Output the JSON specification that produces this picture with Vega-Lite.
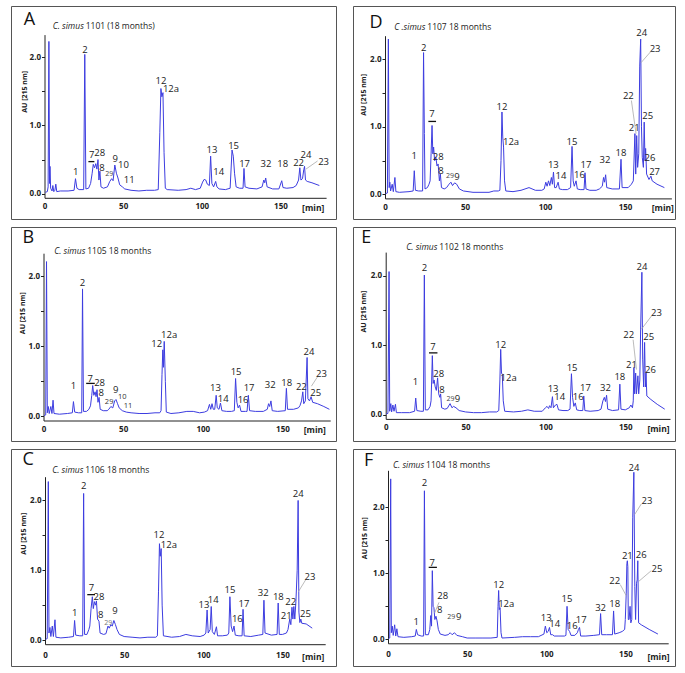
{
"$schema":"https://vega.github.io/schema/vega-lite/v6.json",
"background":"white",
"padding":{"left":10,"top":5,"right":0,"bottom":0},
"config":{
 "view":{"stroke":"#555","strokeWidth":1},
 "axis":{"grid":false,"domainColor":"#222","tickColor":"#222","labelFont":"Open Sans","labelFontWeight":"bold","labelFontSize":8,"labelColor":"#222","titleFont":"Open Sans","titleFontWeight":"bold","titleColor":"#222","labelFlush":false,"labelOverlap":false},
 "axisX":{"ticks":false,"titleFontSize":8.5,"titleBaseline":"middle","titleAlign":"center","titleAngle":0},
 "axisY":{"tickSize":3,"labelPadding":1,"titleFontSize":7,"titleBaseline":"middle","titleAlign":"center","titleAngle":-90}
},
"datasets":{
"info":[
{"p":"A","letter":"A","sp":"C. simus","rest":"1101 (18 months)"},
{"p":"B","letter":"B","sp":"C. simus","rest":"1105 18 months"},
{"p":"C","letter":"C","sp":"C. simus","rest":"1106 18 months"},
{"p":"D","letter":"D","sp":"C .simus","rest":"1107 18 months"},
{"p":"E","letter":"E","sp":"C. simus","rest":"1102 18 months"},
{"p":"F","letter":"F","sp":"C. simus","rest":"1104 18 months"}
],
"br":[
{"p":"A","t":27.9,"t2":31.7,"v":0.47},
{"p":"B","t":26.8,"t2":32.2,"v":0.47},
{"p":"C","t":26.7,"t2":31.6,"v":0.65},
{"p":"D","t":27.1,"t2":31.9,"v":1.08},
{"p":"E","t":27.1,"t2":32.4,"v":0.89},
{"p":"F","t":25.7,"t2":30.9,"v":1.09}
],
"ld":[
{"p":"A","t":173.6,"v":0.48,"t2":166.2,"v2":0.36},
{"p":"B","t":171.9,"v":0.56,"t2":168.2,"v2":0.43},
{"p":"C","t":164.6,"v":0.86,"t2":160,"v2":0.69},
{"p":"D","t":154,"v":1.39,"t2":156.9,"v2":0.9},
{"p":"D","t":166.3,"v":2.12,"t2":160,"v2":1.95},
{"p":"E","t":154.9,"v":1.08,"t2":157,"v2":0.65},
{"p":"E","t":166.4,"v":1.42,"t2":160.1,"v2":1.23},
{"p":"F","t":146.7,"v":0.83,"t2":150.5,"v2":0.66},
{"p":"F","t":160,"v":2.05,"t2":155.8,"v2":1.89},
{"p":"F","t":166.3,"v":1.04,"t2":158.5,"v2":0.88},
{"p":"F","t":32.2,"v":0.56,"t2":29.5,"v2":0.4}
],
"lb":[
{"p":"A","label":"1","t":19.8,"v":0.32},{"p":"A","label":"2","t":25.7,"v":2.11},{"p":"A","label":"7","t":30.0,"v":0.57},{"p":"A","label":"28","t":35.1,"v":0.6},{"p":"A","label":"8","t":36.5,"v":0.38},{"p":"A","label":"29","t":41.2,"v":0.29},{"p":"A","label":"9","t":44.9,"v":0.51},{"p":"A","label":"10","t":50.2,"v":0.42},{"p":"A","label":"11","t":53.8,"v":0.2},{"p":"A","label":"12","t":74.0,"v":1.65},{"p":"A","label":"12a","t":80.4,"v":1.53},{"p":"A","label":"13","t":106.5,"v":0.64},{"p":"A","label":"14","t":110.7,"v":0.32},{"p":"A","label":"15","t":120.2,"v":0.7},{"p":"A","label":"17","t":127.2,"v":0.44},{"p":"A","label":"32","t":140.8,"v":0.44},{"p":"A","label":"18","t":151.4,"v":0.43},{"p":"A","label":"22","t":161.5,"v":0.45},{"p":"A","label":"24","t":166.2,"v":0.57},{"p":"A","label":"23","t":177.4,"v":0.46},
{"p":"D","label":"1","t":18.3,"v":0.57},{"p":"D","label":"2","t":24.2,"v":2.17},{"p":"D","label":"7","t":29.4,"v":1.19},{"p":"D","label":"28","t":33.3,"v":0.56},{"p":"D","label":"8","t":35,"v":0.35},{"p":"D","label":"29","t":40.6,"v":0.27},{"p":"D","label":"9","t":45,"v":0.26},{"p":"D","label":"12","t":73.1,"v":1.29},{"p":"D","label":"12a","t":78.8,"v":0.78},{"p":"D","label":"13","t":105.2,"v":0.43},{"p":"D","label":"14","t":110,"v":0.27},{"p":"D","label":"15","t":116.9,"v":0.78},{"p":"D","label":"16","t":121.5,"v":0.28},{"p":"D","label":"17","t":125.6,"v":0.43},{"p":"D","label":"32","t":137.5,"v":0.51},{"p":"D","label":"18","t":147.5,"v":0.61},{"p":"D","label":"22","t":152.1,"v":1.46},{"p":"D","label":"21","t":155.8,"v":0.98},{"p":"D","label":"24","t":160.4,"v":2.39},{"p":"D","label":"23","t":168.8,"v":2.15},{"p":"D","label":"25","t":164.2,"v":1.16},{"p":"D","label":"26","t":165.6,"v":0.54},{"p":"D","label":"27","t":168.5,"v":0.33},
{"p":"B","label":"1","t":18.8,"v":0.44},{"p":"B","label":"2","t":24.5,"v":1.9},{"p":"B","label":"7","t":29.3,"v":0.53},{"p":"B","label":"28","t":35.2,"v":0.48},{"p":"B","label":"8","t":36.2,"v":0.33},{"p":"B","label":"29","t":41.2,"v":0.2},{"p":"B","label":"9","t":45.4,"v":0.37},{"p":"B","label":"10","t":49.4,"v":0.28},{"p":"B","label":"11","t":53,"v":0.15},{"p":"B","label":"12","t":71.1,"v":1.04},{"p":"B","label":"12a","t":78.9,"v":1.16},{"p":"B","label":"13","t":108,"v":0.4},{"p":"B","label":"14","t":112.8,"v":0.25},{"p":"B","label":"15","t":120.9,"v":0.63},{"p":"B","label":"16","t":125.3,"v":0.23},{"p":"B","label":"17","t":129.1,"v":0.4},{"p":"B","label":"32","t":142.3,"v":0.45},{"p":"B","label":"18","t":152.7,"v":0.47},{"p":"B","label":"22","t":161.9,"v":0.42},{"p":"B","label":"24","t":166.7,"v":0.92},{"p":"B","label":"23","t":174.5,"v":0.61},{"p":"B","label":"25","t":170.9,"v":0.33},
{"p":"E","label":"1","t":18.6,"v":0.47},{"p":"E","label":"2","t":24.2,"v":2.11},{"p":"E","label":"7","t":29.6,"v":0.98},{"p":"E","label":"28","t":33.2,"v":0.59},{"p":"E","label":"8","t":35.3,"v":0.36},{"p":"E","label":"29","t":40.5,"v":0.22},{"p":"E","label":"9","t":44.9,"v":0.22},{"p":"E","label":"12","t":72,"v":1.01},{"p":"E","label":"12a","t":77,"v":0.53},{"p":"E","label":"13","t":104.8,"v":0.37},{"p":"E","label":"14","t":109,"v":0.25},{"p":"E","label":"15","t":116.7,"v":0.67},{"p":"E","label":"16","t":120.5,"v":0.25},{"p":"E","label":"17","t":125.1,"v":0.38},{"p":"E","label":"32","t":137.6,"v":0.38},{"p":"E","label":"18","t":146.6,"v":0.54},{"p":"E","label":"22","t":152.2,"v":1.15},{"p":"E","label":"21","t":153.9,"v":0.72},{"p":"E","label":"24","t":160.5,"v":2.13},{"p":"E","label":"23","t":169.5,"v":1.46},{"p":"E","label":"25","t":164.7,"v":1.12},{"p":"E","label":"26","t":165.8,"v":0.65},
{"p":"C","label":"1","t":18.7,"v":0.38},{"p":"C","label":"2","t":24.4,"v":2.2},{"p":"C","label":"7","t":29.3,"v":0.74},{"p":"C","label":"28","t":34.1,"v":0.61},{"p":"C","label":"8","t":35.2,"v":0.36},{"p":"C","label":"29","t":40,"v":0.24},{"p":"C","label":"9","t":44.2,"v":0.41},{"p":"C","label":"12","t":72,"v":1.5},{"p":"C","label":"12a","t":78.3,"v":1.36},{"p":"C","label":"13","t":100.4,"v":0.5},{"p":"C","label":"14","t":106.3,"v":0.58},{"p":"C","label":"15","t":116.8,"v":0.71},{"p":"C","label":"16","t":121.5,"v":0.3},{"p":"C","label":"17","t":125.7,"v":0.51},{"p":"C","label":"32","t":137.9,"v":0.67},{"p":"C","label":"18","t":147.4,"v":0.62},{"p":"C","label":"22","t":155.2,"v":0.55},{"p":"C","label":"21","t":152.4,"v":0.34},{"p":"C","label":"24","t":160,"v":2.09},{"p":"C","label":"23","t":167.4,"v":0.91},{"p":"C","label":"25","t":164.5,"v":0.37},
{"p":"F","label":"1","t":17.9,"v":0.26},{"p":"F","label":"2","t":23,"v":2.37},{"p":"F","label":"7","t":28,"v":1.16},{"p":"F","label":"28","t":34.6,"v":0.66},{"p":"F","label":"8","t":32.6,"v":0.45},{"p":"F","label":"29","t":40,"v":0.34},{"p":"F","label":"9","t":44.6,"v":0.34},{"p":"F","label":"12","t":69.9,"v":0.83},{"p":"F","label":"12a","t":74.7,"v":0.54},{"p":"F","label":"13","t":100,"v":0.33},{"p":"F","label":"14","t":105.3,"v":0.23},{"p":"F","label":"15","t":113.1,"v":0.61},{"p":"F","label":"16","t":116.4,"v":0.2},{"p":"F","label":"17","t":122.1,"v":0.3},{"p":"F","label":"32","t":134.3,"v":0.48},{"p":"F","label":"18","t":143.2,"v":0.53},{"p":"F","label":"22","t":143.2,"v":0.89},{"p":"F","label":"21","t":151.2,"v":1.26},{"p":"F","label":"24","t":155.4,"v":2.6},{"p":"F","label":"23","t":163.6,"v":2.1},{"p":"F","label":"26","t":160,"v":1.28},{"p":"F","label":"25","t":169.9,"v":1.06}
],
"tr":[
{"p":"A","t":0.5,"v":0.02},{"p":"A","t":1.8,"v":0.03},{"p":"A","t":2.3,"v":0.1},{"p":"A","t":2.8,"v":2.23},{"p":"A","t":3.2,"v":0.15},{"p":"A","t":3.5,"v":0.4},{"p":"A","t":3.9,"v":0.08},{"p":"A","t":4.8,"v":0.04},{"p":"A","t":5.3,"v":0.12},{"p":"A","t":5.9,"v":0.03},{"p":"A","t":6.6,"v":0.05},{"p":"A","t":7.2,"v":0.14},{"p":"A","t":7.8,"v":0.03},{"p":"A","t":10,"v":0.04},{"p":"A","t":15,"v":0.04},{"p":"A","t":18.8,"v":0.05},{"p":"A","t":19.7,"v":0.22},{"p":"A","t":20.6,"v":0.08},{"p":"A","t":22,"v":0.06},{"p":"A","t":24.9,"v":0.06},{"p":"A","t":25.6,"v":2.04},{"p":"A","t":26.3,"v":0.07},{"p":"A","t":28,"v":0.08},{"p":"A","t":29.3,"v":0.15},{"p":"A","t":30.3,"v":0.3},{"p":"A","t":31,"v":0.43},{"p":"A","t":31.8,"v":0.38},{"p":"A","t":32.6,"v":0.44},{"p":"A","t":33.3,"v":0.36},{"p":"A","t":34,"v":0.5},{"p":"A","t":34.6,"v":0.2},{"p":"A","t":35.2,"v":0.33},{"p":"A","t":35.9,"v":0.1},{"p":"A","t":37.5,"v":0.08},{"p":"A","t":40,"v":0.1},{"p":"A","t":41.5,"v":0.18},{"p":"A","t":42.7,"v":0.22},{"p":"A","t":43.6,"v":0.19},{"p":"A","t":44.7,"v":0.42},{"p":"A","t":45.7,"v":0.3},{"p":"A","t":46.7,"v":0.23},{"p":"A","t":47.8,"v":0.13},{"p":"A","t":49.5,"v":0.1},{"p":"A","t":51,"v":0.07},{"p":"A","t":55,"v":0.05},{"p":"A","t":60,"v":0.04},{"p":"A","t":65,"v":0.05},{"p":"A","t":70,"v":0.05},{"p":"A","t":72.3,"v":0.06},{"p":"A","t":73.3,"v":0.9},{"p":"A","t":74,"v":1.54},{"p":"A","t":74.6,"v":1.42},{"p":"A","t":75.3,"v":1.48},{"p":"A","t":76,"v":0.6},{"p":"A","t":76.8,"v":0.08},{"p":"A","t":78,"v":0.06},{"p":"A","t":85,"v":0.05},{"p":"A","t":90,"v":0.06},{"p":"A","t":93,"v":0.08},{"p":"A","t":96,"v":0.06},{"p":"A","t":99,"v":0.08},{"p":"A","t":100.5,"v":0.17},{"p":"A","t":101.5,"v":0.21},{"p":"A","t":102.5,"v":0.2},{"p":"A","t":103.5,"v":0.14},{"p":"A","t":104.8,"v":0.12},{"p":"A","t":105.6,"v":0.55},{"p":"A","t":106.4,"v":0.15},{"p":"A","t":107.5,"v":0.1},{"p":"A","t":108.8,"v":0.18},{"p":"A","t":109.6,"v":0.1},{"p":"A","t":111,"v":0.07},{"p":"A","t":115,"v":0.06},{"p":"A","t":118,"v":0.08},{"p":"A","t":119.2,"v":0.64},{"p":"A","t":120,"v":0.55},{"p":"A","t":120.8,"v":0.3},{"p":"A","t":121.8,"v":0.1},{"p":"A","t":124,"v":0.08},{"p":"A","t":126.2,"v":0.08},{"p":"A","t":126.8,"v":0.37},{"p":"A","t":127.5,"v":0.1},{"p":"A","t":130,"v":0.08},{"p":"A","t":135,"v":0.07},{"p":"A","t":138.3,"v":0.1},{"p":"A","t":139.4,"v":0.2},{"p":"A","t":140,"v":0.16},{"p":"A","t":140.6,"v":0.23},{"p":"A","t":141.5,"v":0.1},{"p":"A","t":145,"v":0.07},{"p":"A","t":149,"v":0.07},{"p":"A","t":150.8,"v":0.19},{"p":"A","t":151.6,"v":0.09},{"p":"A","t":154,"v":0.08},{"p":"A","t":158,"v":0.09},{"p":"A","t":160,"v":0.12},{"p":"A","t":161.5,"v":0.2},{"p":"A","t":162.3,"v":0.38},{"p":"A","t":163,"v":0.2},{"p":"A","t":164,"v":0.22},{"p":"A","t":164.8,"v":0.35},{"p":"A","t":165.3,"v":0.4},{"p":"A","t":165.9,"v":0.2},{"p":"A","t":167,"v":0.18},{"p":"A","t":170,"v":0.16},{"p":"A","t":174.7,"v":0.12},
{"p":"D","t":0.3,"v":0.01},{"p":"D","t":1.5,"v":0.02},{"p":"D","t":2.1,"v":2.3},{"p":"D","t":2.6,"v":0.1},{"p":"D","t":3,"v":0.18},{"p":"D","t":3.5,"v":0.05},{"p":"D","t":4.5,"v":0.15},{"p":"D","t":5.2,"v":0.04},{"p":"D","t":6.2,"v":0.25},{"p":"D","t":6.8,"v":0.04},{"p":"D","t":9,"v":0.03},{"p":"D","t":15,"v":0.04},{"p":"D","t":17.6,"v":0.05},{"p":"D","t":18.3,"v":0.35},{"p":"D","t":19,"v":0.06},{"p":"D","t":21,"v":0.05},{"p":"D","t":23.5,"v":0.05},{"p":"D","t":24.1,"v":2.1},{"p":"D","t":24.6,"v":0.9},{"p":"D","t":25,"v":0.08},{"p":"D","t":26.5,"v":0.1},{"p":"D","t":27.5,"v":0.15},{"p":"D","t":28.2,"v":0.2},{"p":"D","t":28.8,"v":0.6},{"p":"D","t":29.4,"v":1.02},{"p":"D","t":29.9,"v":0.6},{"p":"D","t":30.4,"v":0.7},{"p":"D","t":31,"v":0.5},{"p":"D","t":31.8,"v":0.55},{"p":"D","t":32.5,"v":0.42},{"p":"D","t":33.2,"v":0.45},{"p":"D","t":34,"v":0.2},{"p":"D","t":34.6,"v":0.3},{"p":"D","t":35.3,"v":0.1},{"p":"D","t":37,"v":0.08},{"p":"D","t":38.5,"v":0.1},{"p":"D","t":40,"v":0.15},{"p":"D","t":41.2,"v":0.18},{"p":"D","t":42.2,"v":0.13},{"p":"D","t":43.5,"v":0.17},{"p":"D","t":44.8,"v":0.15},{"p":"D","t":46.5,"v":0.08},{"p":"D","t":49,"v":0.05},{"p":"D","t":55,"v":0.03},{"p":"D","t":60,"v":0.03},{"p":"D","t":65,"v":0.03},{"p":"D","t":68,"v":0.05},{"p":"D","t":70.8,"v":0.05},{"p":"D","t":71.8,"v":0.06},{"p":"D","t":72.5,"v":0.5},{"p":"D","t":73.1,"v":1.22},{"p":"D","t":73.6,"v":0.85},{"p":"D","t":74.1,"v":0.7},{"p":"D","t":74.7,"v":0.2},{"p":"D","t":75.5,"v":0.05},{"p":"D","t":80,"v":0.04},{"p":"D","t":85,"v":0.06},{"p":"D","t":90,"v":0.1},{"p":"D","t":94,"v":0.06},{"p":"D","t":98,"v":0.06},{"p":"D","t":99.5,"v":0.08},{"p":"D","t":100.5,"v":0.18},{"p":"D","t":101.3,"v":0.12},{"p":"D","t":102.2,"v":0.2},{"p":"D","t":103,"v":0.13},{"p":"D","t":104,"v":0.25},{"p":"D","t":104.6,"v":0.15},{"p":"D","t":105.3,"v":0.33},{"p":"D","t":106,"v":0.1},{"p":"D","t":107,"v":0.1},{"p":"D","t":108.2,"v":0.18},{"p":"D","t":109,"v":0.08},{"p":"D","t":111,"v":0.07},{"p":"D","t":114,"v":0.07},{"p":"D","t":116,"v":0.1},{"p":"D","t":116.9,"v":0.71},{"p":"D","t":117.6,"v":0.2},{"p":"D","t":118.3,"v":0.12},{"p":"D","t":119.4,"v":0.2},{"p":"D","t":120.2,"v":0.08},{"p":"D","t":122,"v":0.07},{"p":"D","t":124.4,"v":0.07},{"p":"D","t":125,"v":0.32},{"p":"D","t":125.6,"v":0.08},{"p":"D","t":128,"v":0.06},{"p":"D","t":132,"v":0.06},{"p":"D","t":134,"v":0.08},{"p":"D","t":135.8,"v":0.12},{"p":"D","t":136.6,"v":0.25},{"p":"D","t":137.2,"v":0.18},{"p":"D","t":137.9,"v":0.29},{"p":"D","t":138.6,"v":0.1},{"p":"D","t":142,"v":0.08},{"p":"D","t":146.5,"v":0.08},{"p":"D","t":147.5,"v":0.52},{"p":"D","t":148.2,"v":0.1},{"p":"D","t":152,"v":0.1},{"p":"D","t":154,"v":0.15},{"p":"D","t":155.2,"v":0.2},{"p":"D","t":156.2,"v":0.9},{"p":"D","t":156.7,"v":0.3},{"p":"D","t":157.3,"v":0.87},{"p":"D","t":157.9,"v":0.4},{"p":"D","t":158.6,"v":0.6},{"p":"D","t":159.2,"v":1.9},{"p":"D","t":159.8,"v":2.3},{"p":"D","t":160.3,"v":1.0},{"p":"D","t":160.8,"v":0.55},{"p":"D","t":161.5,"v":0.4},{"p":"D","t":162,"v":1.07},{"p":"D","t":162.5,"v":0.5},{"p":"D","t":162.9,"v":0.68},{"p":"D","t":163.5,"v":0.3},{"p":"D","t":165,"v":0.22},{"p":"D","t":166.2,"v":0.27},{"p":"D","t":167,"v":0.2},{"p":"D","t":170,"v":0.15},{"p":"D","t":174.6,"v":0.1},
{"p":"B","t":0.3,"v":0.01},{"p":"B","t":1.4,"v":0.02},{"p":"B","t":1.9,"v":2.21},{"p":"B","t":2.4,"v":0.05},{"p":"B","t":3,"v":0.14},{"p":"B","t":3.6,"v":0.04},{"p":"B","t":4.6,"v":0.14},{"p":"B","t":5.3,"v":0.04},{"p":"B","t":6,"v":0.23},{"p":"B","t":6.6,"v":0.04},{"p":"B","t":10,"v":0.03},{"p":"B","t":15,"v":0.04},{"p":"B","t":18.1,"v":0.05},{"p":"B","t":18.8,"v":0.21},{"p":"B","t":19.6,"v":0.06},{"p":"B","t":22,"v":0.05},{"p":"B","t":24,"v":0.05},{"p":"B","t":24.5,"v":1.82},{"p":"B","t":25.1,"v":0.07},{"p":"B","t":27,"v":0.07},{"p":"B","t":28.5,"v":0.1},{"p":"B","t":29.5,"v":0.15},{"p":"B","t":30.3,"v":0.3},{"p":"B","t":30.9,"v":0.44},{"p":"B","t":31.6,"v":0.3},{"p":"B","t":32.4,"v":0.35},{"p":"B","t":33,"v":0.28},{"p":"B","t":33.6,"v":0.38},{"p":"B","t":34.2,"v":0.2},{"p":"B","t":34.9,"v":0.27},{"p":"B","t":35.6,"v":0.1},{"p":"B","t":37.5,"v":0.08},{"p":"B","t":40,"v":0.08},{"p":"B","t":41,"v":0.1},{"p":"B","t":42.3,"v":0.14},{"p":"B","t":43.5,"v":0.12},{"p":"B","t":44.7,"v":0.22},{"p":"B","t":45.5,"v":0.24},{"p":"B","t":46.5,"v":0.18},{"p":"B","t":47.5,"v":0.12},{"p":"B","t":49.5,"v":0.08},{"p":"B","t":52,"v":0.06},{"p":"B","t":55,"v":0.05},{"p":"B","t":60,"v":0.04},{"p":"B","t":65,"v":0.04},{"p":"B","t":70,"v":0.05},{"p":"B","t":73,"v":0.05},{"p":"B","t":73.8,"v":0.08},{"p":"B","t":74.4,"v":0.6},{"p":"B","t":74.9,"v":0.95},{"p":"B","t":75.3,"v":0.7},{"p":"B","t":75.8,"v":1.07},{"p":"B","t":76.5,"v":0.5},{"p":"B","t":77.1,"v":0.06},{"p":"B","t":80,"v":0.04},{"p":"B","t":85,"v":0.05},{"p":"B","t":90,"v":0.07},{"p":"B","t":94,"v":0.07},{"p":"B","t":98,"v":0.05},{"p":"B","t":101,"v":0.06},{"p":"B","t":103,"v":0.08},{"p":"B","t":104.2,"v":0.17},{"p":"B","t":105,"v":0.1},{"p":"B","t":105.8,"v":0.18},{"p":"B","t":106.6,"v":0.1},{"p":"B","t":107.5,"v":0.1},{"p":"B","t":108.4,"v":0.3},{"p":"B","t":109.1,"v":0.12},{"p":"B","t":110.2,"v":0.1},{"p":"B","t":111.1,"v":0.19},{"p":"B","t":112,"v":0.08},{"p":"B","t":115,"v":0.07},{"p":"B","t":118,"v":0.07},{"p":"B","t":119.8,"v":0.08},{"p":"B","t":120.6,"v":0.54},{"p":"B","t":121.4,"v":0.2},{"p":"B","t":122.2,"v":0.12},{"p":"B","t":123.1,"v":0.16},{"p":"B","t":124,"v":0.07},{"p":"B","t":126.8,"v":0.07},{"p":"B","t":127.8,"v":0.07},{"p":"B","t":128.6,"v":0.3},{"p":"B","t":129.4,"v":0.08},{"p":"B","t":133,"v":0.07},{"p":"B","t":138,"v":0.07},{"p":"B","t":140.5,"v":0.1},{"p":"B","t":141.3,"v":0.18},{"p":"B","t":142,"v":0.14},{"p":"B","t":142.8,"v":0.22},{"p":"B","t":143.6,"v":0.08},{"p":"B","t":147,"v":0.07},{"p":"B","t":151.8,"v":0.08},{"p":"B","t":152.5,"v":0.4},{"p":"B","t":153.2,"v":0.1},{"p":"B","t":157,"v":0.1},{"p":"B","t":160,"v":0.12},{"p":"B","t":161,"v":0.15},{"p":"B","t":162,"v":0.22},{"p":"B","t":162.8,"v":0.35},{"p":"B","t":163.4,"v":0.18},{"p":"B","t":164.4,"v":0.22},{"p":"B","t":165.5,"v":0.84},{"p":"B","t":166,"v":0.25},{"p":"B","t":167,"v":0.22},{"p":"B","t":168,"v":0.28},{"p":"B","t":169,"v":0.2},{"p":"B","t":172,"v":0.18},{"p":"B","t":176,"v":0.14},{"p":"B","t":179.5,"v":0.1},
{"p":"E","t":0.3,"v":0.01},{"p":"E","t":1.4,"v":0.02},{"p":"E","t":2.1,"v":2.06},{"p":"E","t":2.5,"v":0.05},{"p":"E","t":3.2,"v":0.16},{"p":"E","t":3.7,"v":0.04},{"p":"E","t":4.5,"v":0.14},{"p":"E","t":5.2,"v":0.05},{"p":"E","t":6.1,"v":0.15},{"p":"E","t":6.7,"v":0.03},{"p":"E","t":10,"v":0.03},{"p":"E","t":15,"v":0.03},{"p":"E","t":18.1,"v":0.05},{"p":"E","t":18.8,"v":0.24},{"p":"E","t":19.5,"v":0.06},{"p":"E","t":22,"v":0.05},{"p":"E","t":23.6,"v":0.05},{"p":"E","t":24.2,"v":2.01},{"p":"E","t":24.8,"v":0.07},{"p":"E","t":26.5,"v":0.07},{"p":"E","t":27.8,"v":0.12},{"p":"E","t":28.4,"v":0.2},{"p":"E","t":28.8,"v":0.5},{"p":"E","t":29.2,"v":0.85},{"p":"E","t":29.7,"v":0.45},{"p":"E","t":30.3,"v":0.5},{"p":"E","t":31,"v":0.4},{"p":"E","t":31.7,"v":0.35},{"p":"E","t":32.5,"v":0.53},{"p":"E","t":33.2,"v":0.3},{"p":"E","t":33.9,"v":0.25},{"p":"E","t":34.4,"v":0.3},{"p":"E","t":35,"v":0.1},{"p":"E","t":37,"v":0.08},{"p":"E","t":38.5,"v":0.09},{"p":"E","t":40.3,"v":0.16},{"p":"E","t":41.5,"v":0.1},{"p":"E","t":42.5,"v":0.12},{"p":"E","t":44,"v":0.1},{"p":"E","t":46,"v":0.06},{"p":"E","t":50,"v":0.04},{"p":"E","t":55,"v":0.03},{"p":"E","t":60,"v":0.03},{"p":"E","t":65,"v":0.04},{"p":"E","t":69.5,"v":0.04},{"p":"E","t":70.8,"v":0.06},{"p":"E","t":71.5,"v":0.5},{"p":"E","t":72,"v":0.94},{"p":"E","t":72.5,"v":0.6},{"p":"E","t":73,"v":0.58},{"p":"E","t":73.6,"v":0.2},{"p":"E","t":74.5,"v":0.05},{"p":"E","t":80,"v":0.04},{"p":"E","t":85,"v":0.05},{"p":"E","t":89,"v":0.07},{"p":"E","t":93,"v":0.05},{"p":"E","t":98,"v":0.05},{"p":"E","t":100,"v":0.1},{"p":"E","t":101,"v":0.12},{"p":"E","t":102,"v":0.09},{"p":"E","t":102.6,"v":0.13},{"p":"E","t":103.5,"v":0.1},{"p":"E","t":104.4,"v":0.26},{"p":"E","t":105,"v":0.1},{"p":"E","t":106.3,"v":0.14},{"p":"E","t":107.2,"v":0.15},{"p":"E","t":108.2,"v":0.07},{"p":"E","t":111,"v":0.06},{"p":"E","t":114,"v":0.06},{"p":"E","t":115.4,"v":0.08},{"p":"E","t":116.3,"v":0.59},{"p":"E","t":117,"v":0.25},{"p":"E","t":117.8,"v":0.12},{"p":"E","t":118.7,"v":0.17},{"p":"E","t":119.6,"v":0.07},{"p":"E","t":121.5,"v":0.06},{"p":"E","t":123.4,"v":0.06},{"p":"E","t":124,"v":0.27},{"p":"E","t":124.7,"v":0.06},{"p":"E","t":128,"v":0.05},{"p":"E","t":133,"v":0.06},{"p":"E","t":134.8,"v":0.08},{"p":"E","t":136,"v":0.2},{"p":"E","t":136.9,"v":0.25},{"p":"E","t":137.6,"v":0.19},{"p":"E","t":138.3,"v":0.28},{"p":"E","t":139,"v":0.08},{"p":"E","t":142,"v":0.06},{"p":"E","t":145.8,"v":0.07},{"p":"E","t":146.6,"v":0.44},{"p":"E","t":147.3,"v":0.08},{"p":"E","t":150,"v":0.07},{"p":"E","t":152.5,"v":0.1},{"p":"E","t":153.5,"v":0.14},{"p":"E","t":154.5,"v":0.1},{"p":"E","t":155,"v":0.2},{"p":"E","t":155.4,"v":0.68},{"p":"E","t":155.9,"v":0.3},{"p":"E","t":156.5,"v":0.6},{"p":"E","t":157,"v":0.3},{"p":"E","t":157.9,"v":0.56},{"p":"E","t":158.4,"v":0.3},{"p":"E","t":159.1,"v":0.5},{"p":"E","t":159.6,"v":1.22},{"p":"E","t":160.4,"v":2.05},{"p":"E","t":160.9,"v":0.8},{"p":"E","t":161.5,"v":0.4},{"p":"E","t":162.1,"v":1.04},{"p":"E","t":162.6,"v":0.4},{"p":"E","t":163,"v":0.6},{"p":"E","t":163.5,"v":0.27},{"p":"E","t":166,"v":0.22},{"p":"E","t":170,"v":0.15},{"p":"E","t":174.7,"v":0.08},
{"p":"C","t":0.3,"v":0.01},{"p":"C","t":1.4,"v":0.02},{"p":"C","t":2.1,"v":2.27},{"p":"C","t":2.5,"v":0.1},{"p":"C","t":3.1,"v":0.18},{"p":"C","t":3.7,"v":0.05},{"p":"C","t":4.6,"v":0.2},{"p":"C","t":5.3,"v":0.05},{"p":"C","t":6.3,"v":0.29},{"p":"C","t":6.9,"v":0.04},{"p":"C","t":10,"v":0.03},{"p":"C","t":15,"v":0.04},{"p":"C","t":18,"v":0.05},{"p":"C","t":18.7,"v":0.28},{"p":"C","t":19.4,"v":0.07},{"p":"C","t":22,"v":0.06},{"p":"C","t":23.8,"v":0.06},{"p":"C","t":24.4,"v":2.1},{"p":"C","t":25,"v":0.08},{"p":"C","t":26.5,"v":0.08},{"p":"C","t":27.7,"v":0.15},{"p":"C","t":28.3,"v":0.2},{"p":"C","t":29.1,"v":0.45},{"p":"C","t":29.9,"v":0.62},{"p":"C","t":30.5,"v":0.45},{"p":"C","t":31.2,"v":0.55},{"p":"C","t":31.9,"v":0.5},{"p":"C","t":32.5,"v":0.56},{"p":"C","t":33.2,"v":0.3},{"p":"C","t":34.1,"v":0.27},{"p":"C","t":34.8,"v":0.1},{"p":"C","t":37,"v":0.08},{"p":"C","t":38.5,"v":0.09},{"p":"C","t":39.8,"v":0.2},{"p":"C","t":40.6,"v":0.17},{"p":"C","t":41.6,"v":0.22},{"p":"C","t":42.5,"v":0.2},{"p":"C","t":43.5,"v":0.28},{"p":"C","t":44.5,"v":0.22},{"p":"C","t":45.5,"v":0.15},{"p":"C","t":47,"v":0.08},{"p":"C","t":50,"v":0.05},{"p":"C","t":55,"v":0.04},{"p":"C","t":60,"v":0.03},{"p":"C","t":65,"v":0.04},{"p":"C","t":70,"v":0.04},{"p":"C","t":71,"v":0.06},{"p":"C","t":71.7,"v":0.7},{"p":"C","t":72.3,"v":1.38},{"p":"C","t":72.8,"v":1.2},{"p":"C","t":73.4,"v":1.31},{"p":"C","t":74,"v":0.5},{"p":"C","t":74.8,"v":0.06},{"p":"C","t":80,"v":0.04},{"p":"C","t":85,"v":0.05},{"p":"C","t":89,"v":0.08},{"p":"C","t":93,"v":0.06},{"p":"C","t":98,"v":0.05},{"p":"C","t":100.5,"v":0.07},{"p":"C","t":101.6,"v":0.1},{"p":"C","t":102.4,"v":0.43},{"p":"C","t":103.1,"v":0.1},{"p":"C","t":104.3,"v":0.15},{"p":"C","t":105,"v":0.48},{"p":"C","t":105.7,"v":0.12},{"p":"C","t":107,"v":0.08},{"p":"C","t":108.3,"v":0.19},{"p":"C","t":109,"v":0.06},{"p":"C","t":112,"v":0.06},{"p":"C","t":115.2,"v":0.07},{"p":"C","t":116.1,"v":0.1},{"p":"C","t":116.8,"v":0.62},{"p":"C","t":117.6,"v":0.2},{"p":"C","t":118.5,"v":0.12},{"p":"C","t":119.4,"v":0.2},{"p":"C","t":120.2,"v":0.07},{"p":"C","t":122.5,"v":0.06},{"p":"C","t":124.5,"v":0.06},{"p":"C","t":125.1,"v":0.44},{"p":"C","t":125.8,"v":0.06},{"p":"C","t":130,"v":0.05},{"p":"C","t":135,"v":0.07},{"p":"C","t":137.6,"v":0.08},{"p":"C","t":138.3,"v":0.57},{"p":"C","t":139,"v":0.1},{"p":"C","t":143,"v":0.07},{"p":"C","t":146.6,"v":0.08},{"p":"C","t":147.3,"v":0.53},{"p":"C","t":148,"v":0.08},{"p":"C","t":150,"v":0.08},{"p":"C","t":152.5,"v":0.1},{"p":"C","t":153.5,"v":0.15},{"p":"C","t":154.6,"v":0.3},{"p":"C","t":155.3,"v":0.22},{"p":"C","t":156,"v":0.47},{"p":"C","t":156.6,"v":0.3},{"p":"C","t":157.2,"v":0.48},{"p":"C","t":157.8,"v":0.3},{"p":"C","t":158.5,"v":0.55},{"p":"C","t":159.3,"v":1.0},{"p":"C","t":159.9,"v":2.0},{"p":"C","t":160.4,"v":0.4},{"p":"C","t":161,"v":0.25},{"p":"C","t":161.6,"v":0.3},{"p":"C","t":162.2,"v":0.24},{"p":"C","t":165,"v":0.23},{"p":"C","t":168.8,"v":0.17},
{"p":"F","t":0.3,"v":0.01},{"p":"F","t":1.1,"v":0.02},{"p":"F","t":1.7,"v":2.43},{"p":"F","t":2.1,"v":0.1},{"p":"F","t":2.7,"v":0.2},{"p":"F","t":3.3,"v":0.06},{"p":"F","t":4.2,"v":0.22},{"p":"F","t":4.9,"v":0.05},{"p":"F","t":5.6,"v":0.16},{"p":"F","t":6.3,"v":0.04},{"p":"F","t":10,"v":0.03},{"p":"F","t":15,"v":0.04},{"p":"F","t":17.2,"v":0.05},{"p":"F","t":17.9,"v":0.15},{"p":"F","t":18.7,"v":0.07},{"p":"F","t":21,"v":0.05},{"p":"F","t":22.5,"v":0.05},{"p":"F","t":23,"v":2.25},{"p":"F","t":23.6,"v":0.07},{"p":"F","t":25.5,"v":0.07},{"p":"F","t":26.4,"v":0.15},{"p":"F","t":27,"v":0.36},{"p":"F","t":27.5,"v":0.2},{"p":"F","t":28,"v":1.04},{"p":"F","t":28.5,"v":0.5},{"p":"F","t":29,"v":0.48},{"p":"F","t":29.6,"v":0.3},{"p":"F","t":30.3,"v":0.35},{"p":"F","t":31,"v":0.28},{"p":"F","t":31.8,"v":0.15},{"p":"F","t":33,"v":0.08},{"p":"F","t":36,"v":0.06},{"p":"F","t":38,"v":0.07},{"p":"F","t":39.3,"v":0.1},{"p":"F","t":40.5,"v":0.07},{"p":"F","t":42,"v":0.1},{"p":"F","t":43.5,"v":0.06},{"p":"F","t":47,"v":0.04},{"p":"F","t":50,"v":0.02},{"p":"F","t":55,"v":0.02},{"p":"F","t":60,"v":0.02},{"p":"F","t":65,"v":0.02},{"p":"F","t":69,"v":0.03},{"p":"F","t":69.5,"v":0.5},{"p":"F","t":69.9,"v":0.74},{"p":"F","t":70.3,"v":0.45},{"p":"F","t":70.8,"v":0.48},{"p":"F","t":71.4,"v":0.1},{"p":"F","t":72,"v":0.02},{"p":"F","t":80,"v":0.03},{"p":"F","t":85,"v":0.04},{"p":"F","t":90,"v":0.04},{"p":"F","t":95,"v":0.04},{"p":"F","t":98.5,"v":0.08},{"p":"F","t":99.4,"v":0.2},{"p":"F","t":100.3,"v":0.1},{"p":"F","t":101.2,"v":0.12},{"p":"F","t":102,"v":0.18},{"p":"F","t":102.8,"v":0.07},{"p":"F","t":104,"v":0.07},{"p":"F","t":105,"v":0.05},{"p":"F","t":108,"v":0.05},{"p":"F","t":111.5,"v":0.05},{"p":"F","t":112.4,"v":0.06},{"p":"F","t":113.1,"v":0.5},{"p":"F","t":113.8,"v":0.15},{"p":"F","t":114.7,"v":0.12},{"p":"F","t":115.6,"v":0.06},{"p":"F","t":118,"v":0.06},{"p":"F","t":119.6,"v":0.1},{"p":"F","t":120.3,"v":0.15},{"p":"F","t":121,"v":0.18},{"p":"F","t":121.7,"v":0.05},{"p":"F","t":125,"v":0.05},{"p":"F","t":130,"v":0.06},{"p":"F","t":133.6,"v":0.07},{"p":"F","t":134.3,"v":0.39},{"p":"F","t":135,"v":0.07},{"p":"F","t":138,"v":0.07},{"p":"F","t":141.8,"v":0.07},{"p":"F","t":142.5,"v":0.43},{"p":"F","t":143.2,"v":0.08},{"p":"F","t":146,"v":0.1},{"p":"F","t":148,"v":0.12},{"p":"F","t":149.5,"v":0.15},{"p":"F","t":149.9,"v":0.3},{"p":"F","t":150.5,"v":0.7},{"p":"F","t":150.9,"v":1.15},{"p":"F","t":151.2,"v":1.19},{"p":"F","t":151.5,"v":1.1},{"p":"F","t":151.8,"v":0.3},{"p":"F","t":152.3,"v":0.3},{"p":"F","t":152.9,"v":0.5},{"p":"F","t":153.4,"v":0.25},{"p":"F","t":154,"v":0.3},{"p":"F","t":154.6,"v":1.85},{"p":"F","t":155.3,"v":2.53},{"p":"F","t":155.9,"v":0.8},{"p":"F","t":156.4,"v":0.3},{"p":"F","t":157,"v":0.85},{"p":"F","t":157.4,"v":0.9},{"p":"F","t":157.8,"v":1.19},{"p":"F","t":158.3,"v":0.25},{"p":"F","t":160,"v":0.22},{"p":"F","t":165,"v":0.15},{"p":"F","t":170.5,"v":0.08}
]
},
"vconcat":[
{"hconcat":[
{"width":325,"height":213,
 "layer":[
  {"encoding":{
    "x":{"field":"t","type":"quantitative","scale":{"domain":[0,179],"range":[33.5,315.1],"nice":false,"zero":false},"axis":{"values":[0,50,100,150],"title":"[min]","offset":-21.2,"labelPadding":5,"titleX":301.7,"titleY":9.9}},
    "y":{"field":"v","type":"quantitative","scale":{"domain":[-0.06,2.33],"range":[191.8,28.6],"nice":false,"zero":false},"axis":{"values":[0,0.5,1,1.5,2],"labelExpr":"datum.value % 1 === 0 ? format(datum.value, '.1f') : ''","title":"AU [215 nm]","offset":-33.5,"titleX":-20.2,"titleY":85.3}}
   },
   "layer":[
    {"data":{"name":"tr"},"transform":[{"filter":"datum.p==='A'"}],"mark":{"type":"line","color":"#3d3de0","strokeWidth":1}},
    {"data":{"name":"lb"},"transform":[{"filter":"datum.p==='A' && datum.label!=='29'"}],"mark":{"type":"text","font":"Open Sans","fontSize":9.5,"color":"#222","align":"center","baseline":"middle"},"encoding":{"text":{"field":"label"}}},
    {"data":{"name":"lb"},"transform":[{"filter":"datum.p==='A' && datum.label==='29'"}],"mark":{"type":"text","font":"Open Sans","fontSize":7,"color":"#444","align":"center","baseline":"middle"},"encoding":{"text":{"field":"label"}}},
    {"data":{"name":"ld"},"transform":[{"filter":"datum.p==='A'"}],"mark":{"type":"rule","color":"#aaa","strokeWidth":0.8},"encoding":{"x2":{"field":"t2"},"y2":{"field":"v2"}}},
    {"data":{"name":"br"},"transform":[{"filter":"datum.p==='A'"}],"mark":{"type":"rule","color":"#111","strokeWidth":1.3},"encoding":{"x2":{"field":"t2"}}}
   ]},
  {"data":{"name":"info"},"transform":[{"filter":"datum.p==='A'"}],"mark":{"type":"text","font":"Open Sans","fontSize":18,"color":"#111","align":"center","baseline":"middle"},"encoding":{"x":{"datum":-9.6,"type":"quantitative"},"y":{"datum":2.54,"type":"quantitative"},"text":{"field":"letter"}}},
  {"data":{"name":"info"},"transform":[{"filter":"datum.p==='A'"}],"mark":{"type":"text","font":"Open Sans","fontSize":8.5,"fontStyle":"italic","color":"#222","align":"left","baseline":"middle"},"encoding":{"x":{"datum":5.2,"type":"quantitative"},"y":{"datum":2.45,"type":"quantitative"},"text":{"field":"sp"}}},
  {"data":{"name":"info"},"transform":[{"filter":"datum.p==='A'"}],"mark":{"type":"text","font":"Open Sans","fontSize":8.5,"color":"#222","align":"left","baseline":"middle","dx":33},"encoding":{"x":{"datum":5.2,"type":"quantitative"},"y":{"datum":2.45,"type":"quantitative"},"text":{"field":"rest"}}}
 ]},
{"width":322,"height":213,
 "layer":[
  {"encoding":{
    "x":{"field":"t","type":"quantitative","scale":{"domain":[0,179],"range":[32,318.4],"nice":false,"zero":false},"axis":{"values":[0,50,100,150],"title":"[min]","offset":-20.6,"labelPadding":5,"titleX":309.3,"titleY":9.3}},
    "y":{"field":"v","type":"quantitative","scale":{"domain":[-0.06,2.35],"range":[192.4,29.7],"nice":false,"zero":false},"axis":{"values":[0,0.5,1,1.5,2],"labelExpr":"datum.value % 1 === 0 ? format(datum.value, '.1f') : ''","title":"AU [215 nm]","offset":-32,"titleX":-21.3,"titleY":88.4}}
   },
   "layer":[
    {"data":{"name":"tr"},"transform":[{"filter":"datum.p==='D'"}],"mark":{"type":"line","color":"#3d3de0","strokeWidth":1}},
    {"data":{"name":"lb"},"transform":[{"filter":"datum.p==='D' && datum.label!=='29'"}],"mark":{"type":"text","font":"Open Sans","fontSize":9.5,"color":"#222","align":"center","baseline":"middle"},"encoding":{"text":{"field":"label"}}},
    {"data":{"name":"lb"},"transform":[{"filter":"datum.p==='D' && datum.label==='29'"}],"mark":{"type":"text","font":"Open Sans","fontSize":7,"color":"#444","align":"center","baseline":"middle"},"encoding":{"text":{"field":"label"}}},
    {"data":{"name":"ld"},"transform":[{"filter":"datum.p==='D'"}],"mark":{"type":"rule","color":"#aaa","strokeWidth":0.8},"encoding":{"x2":{"field":"t2"},"y2":{"field":"v2"}}},
    {"data":{"name":"br"},"transform":[{"filter":"datum.p==='D'"}],"mark":{"type":"rule","color":"#111","strokeWidth":1.3},"encoding":{"x2":{"field":"t2"}}}
   ]},
  {"data":{"name":"info"},"transform":[{"filter":"datum.p==='D'"}],"mark":{"type":"text","font":"Open Sans","fontSize":18,"color":"#111","align":"center","baseline":"middle"},"encoding":{"x":{"datum":-5.6,"type":"quantitative"},"y":{"datum":2.54,"type":"quantitative"},"text":{"field":"letter"}}},
  {"data":{"name":"info"},"transform":[{"filter":"datum.p==='D'"}],"mark":{"type":"text","font":"Open Sans","fontSize":8.5,"fontStyle":"italic","color":"#222","align":"left","baseline":"middle"},"encoding":{"x":{"datum":5.8,"type":"quantitative"},"y":{"datum":2.48,"type":"quantitative"},"text":{"field":"sp"}}},
  {"data":{"name":"info"},"transform":[{"filter":"datum.p==='D'"}],"mark":{"type":"text","font":"Open Sans","fontSize":8.5,"color":"#222","align":"left","baseline":"middle","dx":33},"encoding":{"x":{"datum":5.8,"type":"quantitative"},"y":{"datum":2.48,"type":"quantitative"},"text":{"field":"rest"}}}
 ]}
],"spacing":15},
{"hconcat":[
{"width":325,"height":214,
 "layer":[
  {"encoding":{
    "x":{"field":"t","type":"quantitative","scale":{"domain":[0,180],"range":[32.5,319.2],"nice":false,"zero":false},"axis":{"values":[0,50,100,150],"title":"[min]","offset":-20.5,"labelPadding":5,"titleX":303.3,"titleY":9.2}},
    "y":{"field":"v","type":"quantitative","scale":{"domain":[-0.06,2.33],"range":[193.5,26.2],"nice":false,"zero":false},"axis":{"values":[0,0.5,1,1.5,2],"labelExpr":"datum.value % 1 === 0 ? format(datum.value, '.1f') : ''","title":"AU [215 nm]","offset":-32.5,"titleX":-20.8,"titleY":85.7}}
   },
   "layer":[
    {"data":{"name":"tr"},"transform":[{"filter":"datum.p==='B'"}],"mark":{"type":"line","color":"#3d3de0","strokeWidth":1}},
    {"data":{"name":"lb"},"transform":[{"filter":"datum.p==='B' && datum.label!=='29' && datum.label!=='10' && datum.label!=='11'"}],"mark":{"type":"text","font":"Open Sans","fontSize":9.5,"color":"#222","align":"center","baseline":"middle"},"encoding":{"text":{"field":"label"}}},
    {"data":{"name":"lb"},"transform":[{"filter":"datum.p==='B' && (datum.label==='29' || datum.label==='10' || datum.label==='11')"}],"mark":{"type":"text","font":"Open Sans","fontSize":7.5,"color":"#333","align":"center","baseline":"middle"},"encoding":{"text":{"field":"label"}}},
    {"data":{"name":"ld"},"transform":[{"filter":"datum.p==='B'"}],"mark":{"type":"rule","color":"#aaa","strokeWidth":0.8},"encoding":{"x2":{"field":"t2"},"y2":{"field":"v2"}}},
    {"data":{"name":"br"},"transform":[{"filter":"datum.p==='B'"}],"mark":{"type":"rule","color":"#111","strokeWidth":1.3},"encoding":{"x2":{"field":"t2"}}}
   ]},
  {"data":{"name":"info"},"transform":[{"filter":"datum.p==='B'"}],"mark":{"type":"text","font":"Open Sans","fontSize":18,"color":"#111","align":"center","baseline":"middle"},"encoding":{"x":{"datum":-9.6,"type":"quantitative"},"y":{"datum":2.55,"type":"quantitative"},"text":{"field":"letter"}}},
  {"data":{"name":"info"},"transform":[{"filter":"datum.p==='B'"}],"mark":{"type":"text","font":"Open Sans","fontSize":8.5,"fontStyle":"italic","color":"#222","align":"left","baseline":"middle"},"encoding":{"x":{"datum":6.7,"type":"quantitative"},"y":{"datum":2.36,"type":"quantitative"},"text":{"field":"sp"}}},
  {"data":{"name":"info"},"transform":[{"filter":"datum.p==='B'"}],"mark":{"type":"text","font":"Open Sans","fontSize":8.5,"color":"#222","align":"left","baseline":"middle","dx":33},"encoding":{"x":{"datum":6.7,"type":"quantitative"},"y":{"datum":2.36,"type":"quantitative"},"text":{"field":"rest"}}}
 ]},
{"width":322,"height":214,
 "layer":[
  {"encoding":{
    "x":{"field":"t","type":"quantitative","scale":{"domain":[0,178],"range":[32.7,317],"nice":false,"zero":false},"axis":{"values":[0,50,100,150],"title":"[min]","offset":-22.1,"labelPadding":5,"titleX":305,"titleY":9.1}},
    "y":{"field":"v","type":"quantitative","scale":{"domain":[-0.06,2.34],"range":[191.9,25.1],"nice":false,"zero":false},"axis":{"values":[0,0.5,1,1.5,2],"labelExpr":"datum.value % 1 === 0 ? format(datum.value, '.1f') : ''","title":"AU [215 nm]","offset":-32.7,"titleX":-22,"titleY":84.1}}
   },
   "layer":[
    {"data":{"name":"tr"},"transform":[{"filter":"datum.p==='E'"}],"mark":{"type":"line","color":"#3d3de0","strokeWidth":1}},
    {"data":{"name":"lb"},"transform":[{"filter":"datum.p==='E' && datum.label!=='29'"}],"mark":{"type":"text","font":"Open Sans","fontSize":9.5,"color":"#222","align":"center","baseline":"middle"},"encoding":{"text":{"field":"label"}}},
    {"data":{"name":"lb"},"transform":[{"filter":"datum.p==='E' && datum.label==='29'"}],"mark":{"type":"text","font":"Open Sans","fontSize":7,"color":"#444","align":"center","baseline":"middle"},"encoding":{"text":{"field":"label"}}},
    {"data":{"name":"ld"},"transform":[{"filter":"datum.p==='E'"}],"mark":{"type":"rule","color":"#aaa","strokeWidth":0.8},"encoding":{"x2":{"field":"t2"},"y2":{"field":"v2"}}},
    {"data":{"name":"br"},"transform":[{"filter":"datum.p==='E'"}],"mark":{"type":"rule","color":"#111","strokeWidth":1.3},"encoding":{"x2":{"field":"t2"}}}
   ]},
  {"data":{"name":"info"},"transform":[{"filter":"datum.p==='E'"}],"mark":{"type":"text","font":"Open Sans","fontSize":18,"color":"#111","align":"center","baseline":"middle"},"encoding":{"x":{"datum":-12.1,"type":"quantitative"},"y":{"datum":2.54,"type":"quantitative"},"text":{"field":"letter"}}},
  {"data":{"name":"info"},"transform":[{"filter":"datum.p==='E'"}],"mark":{"type":"text","font":"Open Sans","fontSize":8.5,"fontStyle":"italic","color":"#222","align":"left","baseline":"middle"},"encoding":{"x":{"datum":12.9,"type":"quantitative"},"y":{"datum":2.41,"type":"quantitative"},"text":{"field":"sp"}}},
  {"data":{"name":"info"},"transform":[{"filter":"datum.p==='E'"}],"mark":{"type":"text","font":"Open Sans","fontSize":8.5,"color":"#222","align":"left","baseline":"middle","dx":33},"encoding":{"x":{"datum":12.9,"type":"quantitative"},"y":{"datum":2.41,"type":"quantitative"},"text":{"field":"rest"}}}
 ]}
],"spacing":15},
{"hconcat":[
{"width":325,"height":217,
 "layer":[
  {"encoding":{
    "x":{"field":"t","type":"quantitative","scale":{"domain":[0,177],"range":[34,314.2],"nice":false,"zero":false},"axis":{"values":[0,50,100,150],"title":"[min]","offset":-21.8,"labelPadding":7,"titleX":301.7,"titleY":11.8}},
    "y":{"field":"v","type":"quantitative","scale":{"domain":[-0.06,2.34],"range":[195.2,27.7],"nice":false,"zero":false},"axis":{"values":[0,0.5,1,1.5,2],"labelExpr":"datum.value % 1 === 0 ? format(datum.value, '.1f') : ''","title":"AU [215 nm]","offset":-34,"titleX":-21.3,"titleY":84.2}}
   },
   "layer":[
    {"data":{"name":"tr"},"transform":[{"filter":"datum.p==='C'"}],"mark":{"type":"line","color":"#3d3de0","strokeWidth":1}},
    {"data":{"name":"lb"},"transform":[{"filter":"datum.p==='C' && datum.label!=='29'"}],"mark":{"type":"text","font":"Open Sans","fontSize":9.5,"color":"#222","align":"center","baseline":"middle"},"encoding":{"text":{"field":"label"}}},
    {"data":{"name":"lb"},"transform":[{"filter":"datum.p==='C' && datum.label==='29'"}],"mark":{"type":"text","font":"Open Sans","fontSize":7,"color":"#777","align":"center","baseline":"middle"},"encoding":{"text":{"field":"label"}}},
    {"data":{"name":"ld"},"transform":[{"filter":"datum.p==='C'"}],"mark":{"type":"rule","color":"#aaa","strokeWidth":0.8},"encoding":{"x2":{"field":"t2"},"y2":{"field":"v2"}}},
    {"data":{"name":"br"},"transform":[{"filter":"datum.p==='C'"}],"mark":{"type":"rule","color":"#111","strokeWidth":1.3},"encoding":{"x2":{"field":"t2"}}}
   ]},
  {"data":{"name":"info"},"transform":[{"filter":"datum.p==='C'"}],"mark":{"type":"text","font":"Open Sans","fontSize":18,"color":"#111","align":"center","baseline":"middle"},"encoding":{"x":{"datum":-10.7,"type":"quantitative"},"y":{"datum":2.58,"type":"quantitative"},"text":{"field":"letter"}}},
  {"data":{"name":"info"},"transform":[{"filter":"datum.p==='C'"}],"mark":{"type":"text","font":"Open Sans","fontSize":8.5,"fontStyle":"italic","color":"#222","align":"left","baseline":"middle"},"encoding":{"x":{"datum":4.6,"type":"quantitative"},"y":{"datum":2.43,"type":"quantitative"},"text":{"field":"sp"}}},
  {"data":{"name":"info"},"transform":[{"filter":"datum.p==='C'"}],"mark":{"type":"text","font":"Open Sans","fontSize":8.5,"color":"#222","align":"left","baseline":"middle","dx":33},"encoding":{"x":{"datum":4.6,"type":"quantitative"},"y":{"datum":2.43,"type":"quantitative"},"text":{"field":"rest"}}}
 ]},
{"width":322,"height":217,
 "layer":[
  {"encoding":{
    "x":{"field":"t","type":"quantitative","scale":{"domain":[0,177],"range":[35,315.2],"nice":false,"zero":false},"axis":{"values":[0,50,100,150],"title":"[min]","offset":-22.7,"labelPadding":7,"titleX":305,"titleY":12.7}},
    "y":{"field":"v","type":"quantitative","scale":{"domain":[-0.06,2.56],"range":[194.3,21.3],"nice":false,"zero":false},"axis":{"values":[0,0.5,1,1.5,2],"labelExpr":"datum.value % 1 === 0 ? format(datum.value, '.1f') : ''","title":"AU [215 nm]","offset":-35,"titleX":-23.3,"titleY":88.7}}
   },
   "layer":[
    {"data":{"name":"tr"},"transform":[{"filter":"datum.p==='F'"}],"mark":{"type":"line","color":"#3d3de0","strokeWidth":1}},
    {"data":{"name":"lb"},"transform":[{"filter":"datum.p==='F' && datum.label!=='29'"}],"mark":{"type":"text","font":"Open Sans","fontSize":9.5,"color":"#222","align":"center","baseline":"middle"},"encoding":{"text":{"field":"label"}}},
    {"data":{"name":"lb"},"transform":[{"filter":"datum.p==='F' && datum.label==='29'"}],"mark":{"type":"text","font":"Open Sans","fontSize":7,"color":"#444","align":"center","baseline":"middle"},"encoding":{"text":{"field":"label"}}},
    {"data":{"name":"ld"},"transform":[{"filter":"datum.p==='F'"}],"mark":{"type":"rule","color":"#aaa","strokeWidth":0.8},"encoding":{"x2":{"field":"t2"},"y2":{"field":"v2"}}},
    {"data":{"name":"br"},"transform":[{"filter":"datum.p==='F'"}],"mark":{"type":"rule","color":"#111","strokeWidth":1.3},"encoding":{"x2":{"field":"t2"}}}
   ]},
  {"data":{"name":"info"},"transform":[{"filter":"datum.p==='F'"}],"mark":{"type":"text","font":"Open Sans","fontSize":18,"color":"#111","align":"center","baseline":"middle"},"encoding":{"x":{"datum":-12.2,"type":"quantitative"},"y":{"datum":2.7,"type":"quantitative"},"text":{"field":"letter"}}},
  {"data":{"name":"info"},"transform":[{"filter":"datum.p==='F'"}],"mark":{"type":"text","font":"Open Sans","fontSize":8.5,"fontStyle":"italic","color":"#222","align":"left","baseline":"middle"},"encoding":{"x":{"datum":3.2,"type":"quantitative"},"y":{"datum":2.64,"type":"quantitative"},"text":{"field":"sp"}}},
  {"data":{"name":"info"},"transform":[{"filter":"datum.p==='F'"}],"mark":{"type":"text","font":"Open Sans","fontSize":8.5,"color":"#222","align":"left","baseline":"middle","dx":33},"encoding":{"x":{"datum":3.2,"type":"quantitative"},"y":{"datum":2.64,"type":"quantitative"},"text":{"field":"rest"}}}
 ]}
],"spacing":15}
],
"spacing":6
}
